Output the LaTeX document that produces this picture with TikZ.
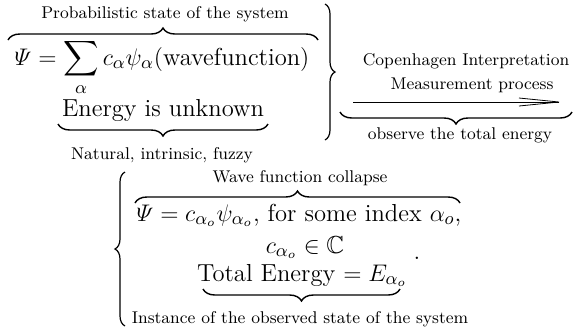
\documentclass[tikz,border=0pt]{standalone}
\usepackage{amsmath,amssymb}
\usetikzlibrary{arrows.meta,decorations.pathreplacing}

\newcommand{\bigtxt}{\fontsize{12.3}{14}\selectfont}
\newcommand{\smalltxt}{\fontsize{8.5}{10}\selectfont}

\begin{document}
\begin{tikzpicture}[x=0.5pt,y=-0.5pt,
  every node/.style={inner sep=0pt,anchor=base},
  big/.style={font=\bigtxt},
  lbl/.style={font=\smalltxt},
  ovr/.style={decorate,decoration={brace,amplitude=6pt},line width=0.7pt},
  side/.style={decorate,decoration={brace,amplitude=5pt},line width=0.6pt}]
  \useasboundingbox (0,0) rectangle (573,328);
  % upper block
  \node[lbl] (prob) at (165,18) {Probabilistic state of the system};
  \node[big] (psi) at (162,65) {$\varPsi = \displaystyle\sum_{\alpha} c_\alpha\psi_\alpha(\text{wavefunction})$};
  \node[big] (unk) at (163,116) {Energy is unknown};
  \node[lbl] (nat) at (162,159) {Natural, intrinsic, fuzzy};
  \draw[ovr] (8,40) -- (318,40);
  \draw[ovr] (268,124) -- (58,124);
  \draw[side] (325,4) -- (325,140);
  % right column
  \node[lbl] (cop) at (466,65) {Copenhagen Interpretation};
  \node[lbl] (meas) at (472,89) {Measurement process};
  \coordinate (arrL) at (353,102);
  \coordinate (arrR) at (563,102);
  \draw[line width=0.4pt,-{Straight Barb[length=20pt,width=4pt]}] (arrL) -- (arrR);
  \draw[ovr] (572,112) -- (340,112);
  \node[lbl] (obs) at (460,139) {observe the total energy};
  % lower block
  \draw[side] (125,326) -- (125,172);
  \node[lbl] (wfc) at (300,182) {Wave function collapse};
  \draw[ovr] (135,203) -- (460,203);
  \node[big] (psio) at (299,221) {$\varPsi = c_{\alpha_o}\psi_{\alpha_o}$, for some index $\alpha_o$,};
  \node[big] (ceq) at (305,253) {$c_{\alpha_o}\in\mathbb{C}$};
  \node[big] (tot) at (302,281) {Total Energy $= E_{\alpha_o}$};
  \draw[ovr] (400,289) -- (203,289);
  \node[lbl] (inst) at (300,323) {Instance of the observed state of the system};
  \node[big] (dot) at (417,259) {.};
\end{tikzpicture}
\end{document}
